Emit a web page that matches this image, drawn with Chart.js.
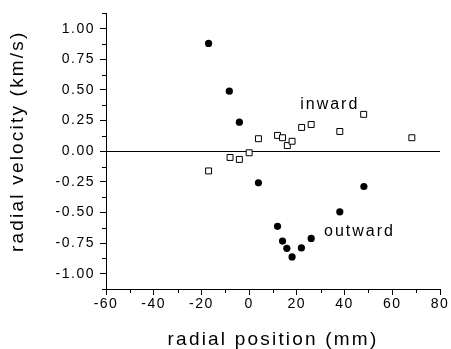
<!DOCTYPE html>
<html><head><meta charset="utf-8">
<script src="https://cdn.jsdelivr.net/npm/chart.js@4/dist/chart.umd.min.js"></script>
<style>html,body{margin:0;padding:0;background:#fff}</style>
</head><body><canvas id="c" width="451" height="349"></canvas>
<script>
const outwardX = [-17, -8.3, -4.1, 3.9, 11.9, 14, 15.8, 18, 21.9, 26, 38, 48.1];
const outwardY = [0.88, 0.49, 0.237, -0.258, -0.613, -0.734, -0.793, -0.863, -0.79, -0.712, -0.495, -0.288];
const inwardX = [-17, -8, -4.1, 0, 3.9, 11.9, 14, 16, 18, 22, 26, 38, 48, 68.2];
const inwardY = [-0.161, -0.051, -0.067, -0.013, 0.102, 0.129, 0.11, 0.046, 0.081, 0.194, 0.218, 0.161, 0.301, 0.11];
const xMajorTicks = [-60, -40, -20, 0, 20, 40, 60, 80];
const xMinorTicks = [-50, -30, -10, 10, 30, 50, 70];
const yMajorTicks = [-1, -0.75, -0.5, -0.25, 0, 0.25, 0.5, 0.75, 1];
const yMinorTicks = [-1.125, -0.875, -0.625, -0.375, -0.125, 0.125, 0.375, 0.625, 0.875, 1.125];
const xTitle = 'radial position (mm)';
const yTitle = 'radial velocity (km/s)';
const seriesLabels = ['inward', 'outward'];
const labelPosX = [21.4, 31.4];
const labelPosY = [0.38, -0.653];

const FONT = '"Liberation Sans", Arial, Helvetica, sans-serif';

const extras = {
  id: 'extras',
  beforeDraw(chart) {
    chart.ctx.letterSpacing = '1.5px';
  },
  afterDraw(chart) {
    const ctx = chart.ctx;
    const xs = chart.scales.x, ys = chart.scales.y;
    const a = chart.chartArea;
    ctx.save();
    ctx.strokeStyle = '#000';
    ctx.lineWidth = 1;
    ctx.beginPath();
    xMinorTicks.forEach(v => {
      const px = Math.round(xs.getPixelForValue(v)) + 0.5;
      ctx.moveTo(px, a.bottom);
      ctx.lineTo(px, a.bottom + 4);
    });
    yMinorTicks.forEach(v => {
      const py = Math.round(ys.getPixelForValue(v)) + 0.5;
      ctx.moveTo(a.left, py);
      ctx.lineTo(a.left - 4, py);
    });
    ctx.stroke();
    // series labels
    ctx.fillStyle = '#000';
    ctx.letterSpacing = '2px';
    ctx.font = '16px ' + FONT;
    ctx.textAlign = 'left';
    ctx.textBaseline = 'middle';
    seriesLabels.forEach((t, i) => {
      ctx.fillText(t, xs.getPixelForValue(labelPosX[i]), ys.getPixelForValue(labelPosY[i]));
    });
    // axis titles
    ctx.letterSpacing = '2.2px';
    ctx.font = '19px ' + FONT;
    ctx.textAlign = 'center';
    ctx.fillText(xTitle, (a.left + a.right) / 2, chart.height - 9);
    ctx.translate(18, (a.top + a.bottom) / 2 - 10);
    ctx.rotate(-Math.PI / 2);
    ctx.fillText(yTitle, 0, 0);
    ctx.restore();
  }
};

new Chart(document.getElementById('c'), {
  type: 'scatter',
  data: {
    datasets: [
      {
        label: seriesLabels[1],
        data: outwardX.map((x, i) => ({ x, y: outwardY[i] })),
        pointStyle: 'circle',
        pointRadius: 3.6,
        backgroundColor: '#000',
        borderColor: '#000',
        borderWidth: 0
      },
      {
        label: seriesLabels[0],
        data: inwardX.map((x, i) => ({ x, y: inwardY[i] })),
        pointStyle: 'rect',
        pointRadius: 4.2,
        backgroundColor: '#fff',
        borderColor: '#000',
        borderWidth: 1
      }
    ]
  },
  options: {
    responsive: false,
    animation: false,
    devicePixelRatio: 1,
    layout: { padding: { top: 10, right: 11, left: 0, bottom: 0 } },
    plugins: { legend: { display: false }, tooltip: { enabled: false } },
    scales: {
      x: {
        type: 'linear',
        min: -60, max: 80,
        afterBuildTicks: s => { s.ticks = xMajorTicks.map(v => ({ value: v })); },
        afterFit: s => { s.height = 60; },
        ticks: { color: '#000', font: { size: 14, family: FONT }, padding: 1, maxRotation: 0, autoSkip: false },
        grid: { drawOnChartArea: false, tickColor: '#000', tickLength: 6, lineWidth: 1 },
        border: { display: true, color: '#000', width: 1 }
      },
      y: {
        type: 'linear',
        min: -1.125, max: 1.125,
        afterBuildTicks: s => { s.ticks = yMajorTicks.map(v => ({ value: v })); },
        afterFit: s => { s.width = 106; },
        ticks: { color: '#000', font: { size: 14, family: FONT }, padding: 5, autoSkip: false,
                 callback: v => Number(v).toFixed(2) },
        grid: { drawOnChartArea: true, tickColor: '#000', tickLength: 6, lineWidth: 1,
                color: c => (c.tick && c.tick.value === 0) ? '#000' : 'rgba(0,0,0,0)' },
        border: { display: true, color: '#000', width: 1 }
      }
    }
  },
  plugins: [extras]
});
</script>
</body></html>
